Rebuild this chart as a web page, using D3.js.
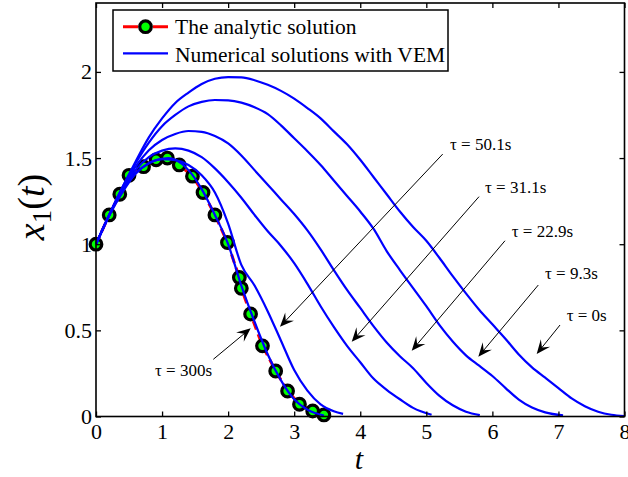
<!DOCTYPE html>
<html><head><meta charset="utf-8">
<script src="https://cdn.jsdelivr.net/npm/d3@7"></script>
<style>
body{margin:0;background:#fff;}
svg{display:block;font-family:"Liberation Serif","Times New Roman",serif;}
</style></head><body>
<svg id="chart" width="628" height="477"></svg>
<script>
// ---------- data ----------
const xTicks = [0,1,2,3,4,5,6,7,8];
const yTicks = [0,0.5,1,1.5,2];
const yTickLabels = ["0","0.5","1","1.5","2"];
const legendLabels = ["The analytic solution","Numerical solutions with VEM"];

const tAnalytic = [0,0.20,0.36,0.50,0.72,0.91,1.08,1.26,1.46,1.62,1.80,1.99,2.17,2.20,2.34,2.52,2.72,2.90,3.08,3.28,3.45];
const xAnalytic = [1.0,1.17,1.29,1.40,1.45,1.49,1.50,1.46,1.395,1.30,1.17,1.01,0.807,0.744,0.595,0.41,0.264,0.148,0.071,0.032,0.009];

const tTau0 = [0,0.2,0.4,0.6,0.8,1.0,1.2,1.4,1.6,1.8,2.0,2.2,2.4,2.6,2.8,3.0,3.2,3.4,3.6,3.8,4.0,4.2,4.4,4.6,4.8,5.0,5.2,5.4,5.6,5.8,6.0,6.2,6.4,6.6,6.8,7.0,7.2,7.4,7.6,7.8,8.0];
const xTau0 = [1.0,1.17,1.33,1.48,1.62,1.73,1.82,1.88,1.93,1.96,1.97,1.968,1.952,1.925,1.89,1.845,1.79,1.73,1.655,1.58,1.49,1.39,1.29,1.19,1.10,1.02,0.92,0.815,0.715,0.62,0.535,0.45,0.36,0.285,0.225,0.165,0.105,0.06,0.028,0.01,0.003];

const tTau9 = [0,0.2,0.4,0.6,0.8,1.0,1.2,1.4,1.6,1.8,2.0,2.2,2.4,2.6,2.8,3.0,3.2,3.4,3.6,3.8,4.0,4.2,4.4,4.6,4.8,5.0,5.2,5.4,5.6,5.8,6.0,6.2,6.4,6.6,6.8,7.07];
const xTau9 = [1.0,1.17,1.33,1.47,1.59,1.685,1.75,1.80,1.826,1.837,1.835,1.822,1.795,1.755,1.69,1.615,1.54,1.46,1.37,1.28,1.19,1.09,0.96,0.85,0.745,0.64,0.53,0.435,0.355,0.295,0.235,0.165,0.098,0.052,0.024,0.006];

const tTau22 = [0,0.2,0.4,0.6,0.8,1.0,1.2,1.4,1.6,1.8,2.0,2.2,2.4,2.6,2.8,3.0,3.2,3.4,3.6,3.8,4.0,4.2,4.4,4.6,4.8,5.0,5.2,5.4,5.6,5.81];
const xTau22 = [1.0,1.17,1.32,1.45,1.545,1.605,1.64,1.657,1.652,1.628,1.585,1.515,1.43,1.345,1.26,1.175,1.08,0.97,0.85,0.735,0.63,0.525,0.43,0.35,0.28,0.195,0.12,0.065,0.028,0.008];

const tTau31 = [0,0.2,0.4,0.6,0.8,1.0,1.2,1.4,1.6,1.8,2.0,2.2,2.4,2.6,2.8,3.0,3.2,3.4,3.6,3.8,4.0,4.2,4.4,4.6,4.8,5.08];
const xTau31 = [1.0,1.17,1.315,1.43,1.505,1.543,1.556,1.543,1.505,1.44,1.36,1.27,1.17,1.075,0.99,0.89,0.77,0.64,0.52,0.41,0.315,0.22,0.155,0.10,0.05,0.01];

const tTau50 = [0,0.2,0.4,0.6,0.8,1.0,1.2,1.4,1.6,1.8,2.0,2.2,2.4,2.6,2.8,3.0,3.2,3.4,3.6,3.74];
const xTau50 = [1.0,1.165,1.30,1.41,1.47,1.494,1.488,1.46,1.40,1.30,1.12,0.88,0.76,0.61,0.44,0.27,0.15,0.07,0.03,0.015];

const tTau300 = [0,0.2,0.4,0.6,0.8,1.0,1.1,1.2,1.4,1.6,1.8,2.0,2.2,2.4,2.6,2.8,3.0,3.2,3.45];
const xTau300 = [1.0,1.17,1.315,1.41,1.47,1.495,1.50,1.49,1.43,1.32,1.17,1.0,0.76,0.55,0.36,0.21,0.10,0.04,0.006];

const tauLabels = ["\u03c4 = 0s","\u03c4 = 9.3s","\u03c4 = 22.9s","\u03c4 = 31.1s","\u03c4 = 50.1s","\u03c4 = 300s"];
// annotation anchors in data units: text position, leader start, arrow tip
const annText  = [[7.125,0.556],[6.797,0.796],[6.293,1.044],[5.889,1.295],[5.359,1.547],[0.893,0.237]];
const annStart = [[7.024,0.531],[6.695,0.763],[6.191,1.020],[5.798,1.276],[5.248,1.523],[1.776,0.332]];
const annTip   = [[6.671,0.363],[5.787,0.347],[4.779,0.382],[3.871,0.434],[2.785,0.521],[2.342,0.512]];

// ---------- chart ----------
const W = 628, H = 477;
const P = {left:96, right:624.5, top:3, bottom:416.5};
const x = d3.scaleLinear().domain([0,8]).range([P.left,P.right]);
const y = d3.scaleLinear().domain([0,2.4]).range([P.bottom,P.top]);
const svg = d3.select("#chart");
svg.append("rect").attr("width",W).attr("height",H).attr("fill","#fff");

const zip = (a,b) => a.map((v,i)=>[v,b[i]]);
const curveLine = d3.line().x(d=>x(d[0])).y(d=>y(d[1])).curve(d3.curveMonotoneX);
const straight = d3.line().x(d=>x(d[0])).y(d=>y(d[1]));

const plotG = svg.append("g");
// analytic solution
const analytic = zip(tAnalytic,xAnalytic);
plotG.append("path").datum(analytic).attr("d",straight)
  .attr("fill","none").attr("stroke","#ff0000").attr("stroke-width",3)
  .attr("stroke-dasharray","9,5");
plotG.selectAll("circle.m").data(analytic).join("circle").attr("class","m")
  .attr("cx",d=>x(d[0])).attr("cy",d=>y(d[1])).attr("r",5.8)
  .attr("fill","#00ff00").attr("stroke","#000").attr("stroke-width",3.2);

// numerical solutions
const curves = [zip(tTau0,xTau0),zip(tTau9,xTau9),zip(tTau22,xTau22),zip(tTau31,xTau31),zip(tTau50,xTau50),zip(tTau300,xTau300)];
plotG.selectAll("path.num").data(curves).join("path").attr("class","num")
  .attr("d",curveLine).attr("fill","none").attr("stroke","#0000ff").attr("stroke-width",2.2);

// axes
const fs = 22;
const gx = svg.append("g").attr("transform",`translate(0,${P.bottom})`)
  .call(d3.axisBottom(x).tickValues(xTicks).tickSize(-5).tickSizeOuter(0).tickPadding(7).tickFormat(d=>String(d)));
const gxt = svg.append("g").attr("transform",`translate(0,${P.top})`)
  .call(d3.axisTop(x).tickValues(xTicks).tickSize(-5).tickSizeOuter(0).tickFormat(""));
const gy = svg.append("g").attr("transform",`translate(${P.left},0)`)
  .call(d3.axisLeft(y).tickValues(yTicks).tickSize(-5).tickSizeOuter(0).tickPadding(4).tickFormat((d,i)=>yTickLabels[i]));
const gyr = svg.append("g").attr("transform",`translate(${P.right},0)`)
  .call(d3.axisRight(y).tickValues(yTicks).tickSize(-5).tickSizeOuter(0).tickFormat(""));
[gx,gxt,gy,gyr].forEach(g=>{
  g.select(".domain").remove();
  g.selectAll(".tick line").attr("stroke","#000").attr("stroke-width",1.3);
  g.selectAll(".tick text").attr("font-family","Liberation Serif, serif").attr("font-size",fs).attr("fill","#000");
});
svg.append("rect").attr("x",P.left).attr("y",P.top).attr("width",P.right-P.left).attr("height",P.bottom-P.top)
  .attr("fill","none").attr("stroke","#000").attr("stroke-width",1.6);

// axis labels
svg.append("text").attr("x",359).attr("y",469).attr("text-anchor","middle")
  .attr("font-size",30).attr("font-style","italic").text("t");
const yl = svg.append("text").attr("transform","translate(44,207) rotate(-90)").attr("text-anchor","middle").attr("font-size",38);
yl.append("tspan").attr("font-style","italic").text("x");
yl.append("tspan").attr("font-size",27).attr("dy",7).text("1");
yl.append("tspan").attr("dy",-7).text("(");
yl.append("tspan").attr("font-style","italic").text("t");
yl.append("tspan").text(")");

// annotations
const ann = svg.append("g");
tauLabels.forEach((lab,i)=>{
  const s=[x(annStart[i][0]),y(annStart[i][1])], t=[x(annTip[i][0]),y(annTip[i][1])];
  const dx=t[0]-s[0], dy=t[1]-s[1], len=Math.hypot(dx,dy), ux=dx/len, uy=dy/len, nx=-uy, ny=ux;
  const L=14, Wd=6;
  ann.append("line").attr("x1",s[0]).attr("y1",s[1]).attr("x2",t[0]-ux*7).attr("y2",t[1]-uy*7)
    .attr("stroke","#000").attr("stroke-width",1);
  const pts=[[t[0],t[1]],[t[0]-ux*L+nx*Wd,t[1]-uy*L+ny*Wd],[t[0]-ux*L*0.6,t[1]-uy*L*0.6],[t[0]-ux*L-nx*Wd,t[1]-uy*L-ny*Wd]];
  ann.append("path").attr("d","M"+pts.map(p=>p.join(",")).join("L")+"Z").attr("fill","#000");
  ann.append("text").attr("x",x(annText[i][0])).attr("y",y(annText[i][1])).attr("font-size",17).attr("fill","#000").text(lab);
});

// legend
const lg = svg.append("g");
lg.append("rect").attr("x",113).attr("y",10).attr("width",335).attr("height",61)
  .attr("fill","#fff").attr("stroke","#000").attr("stroke-width",1.5);
lg.append("line").attr("x1",123).attr("x2",168).attr("y1",26.7).attr("y2",26.7)
  .attr("stroke","#ff0000").attr("stroke-width",3).attr("stroke-dasharray","15,15,15");
lg.append("circle").attr("cx",145.5).attr("cy",26.7).attr("r",5.8).attr("fill","#00ff00").attr("stroke","#000").attr("stroke-width",3.2);
lg.append("line").attr("x1",123).attr("x2",168).attr("y1",53.3).attr("y2",53.3)
  .attr("stroke","#0000ff").attr("stroke-width",2.2);
legendLabels.forEach((l,i)=>{
  lg.append("text").attr("x",175).attr("y",33.5+i*28.5).attr("font-size",21.5).attr("fill","#000").text(l);
});
</script>
</body></html>
